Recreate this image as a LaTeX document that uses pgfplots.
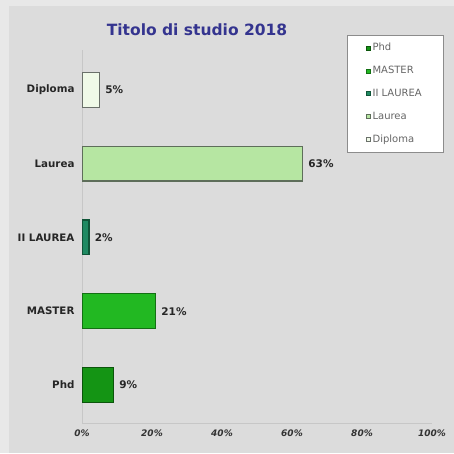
\documentclass[border=0pt]{standalone}
\usepackage{pgfplots}
\pgfplotsset{compat=1.18}
\usepackage{fontspec}
\setmainfont{DejaVu Sans}
\definecolor{bg}{HTML}{DCDCDC}
\definecolor{bgedge}{HTML}{E8E8E8}
\definecolor{titlec}{HTML}{34348F}
\definecolor{cPhd}{HTML}{149414}
\definecolor{ePhd}{HTML}{0B550B}
\definecolor{cMaster}{HTML}{22B822}
\definecolor{eMaster}{HTML}{137013}
\definecolor{cIIL}{HTML}{1F8A62}
\definecolor{eIIL}{HTML}{105538}
\definecolor{cLaurea}{HTML}{B6E6A2}
\definecolor{eLaurea}{HTML}{5E6E5A}
\definecolor{cDiploma}{HTML}{F0FAE8}
\definecolor{eDiploma}{HTML}{6A706A}
\begin{document}
\begin{tikzpicture}[x=1pt,y=1pt]
\fill[bgedge] (0,0) rectangle (454,453);
\fill[bg] (9,0) rectangle (454,447);
\node[font=\bfseries\fontsize{15.5}{18}\selectfont, text=titlec] at (197,423) {Titolo di studio 2018};
\begin{axis}[
  at={(82pt,30pt)}, anchor=south west,
  width=350pt, height=373pt, scale only axis,
  xmin=0, xmax=100, ymin=0.485, ymax=5.54,
  axis lines*=left,
  axis line style={draw=black!22, line width=1pt},
  major tick length=0pt,
  xtick={0,20,40,60,80,100},
  xticklabels={0\%,20\%,40\%,60\%,80\%,100\%},
  xticklabel style={font=\bfseries\itshape\fontsize{9}{11}\selectfont, text=black!80, yshift=-3pt},
  ytick={1,2,3,4,5},
  yticklabels={Phd,MASTER,II LAUREA,Laurea,Diploma},
  yticklabel style={font=\bfseries\fontsize{10.3}{12}\selectfont, text=black!85, xshift=-4pt},
  xbar, bar width=0.47,
  every axis plot/.append style={bar shift=0pt, line width=1.2pt},
  point meta=explicit symbolic,
  nodes near coords,
  nodes near coords style={font=\bfseries\fontsize{10.5}{12}\selectfont, text=black!85, anchor=west, xshift=2pt},
  legend cell align=left,
  legend image code/.code={\draw[#1,/tikz/.cd,line width=0.4pt] (0pt,-2pt) rectangle (4pt,2pt);},
  legend style={at={(0.757,1.040)}, anchor=north west, draw=black!45, fill=white,
    font=\fontsize{10}{12}\selectfont, text=black!60, row sep=10pt,
    inner xsep=19pt, inner ysep=6pt},
]
\addplot[fill=cPhd, draw=ePhd] coordinates {(9,1) [9\%]};
\addlegendentry{Phd}
\addplot[fill=cMaster, draw=eMaster] coordinates {(21,2) [21\%]};
\addlegendentry{MASTER}
\addplot[fill=cIIL, draw=eIIL] coordinates {(2,3) [2\%]};
\addlegendentry{II LAUREA}
\addplot[fill=cLaurea, draw=eLaurea] coordinates {(63,4) [63\%]};
\addlegendentry{Laurea}
\addplot[fill=cDiploma, draw=eDiploma] coordinates {(5,5) [5\%]};
\addlegendentry{Diploma}
\end{axis}
\end{tikzpicture}
\end{document}
